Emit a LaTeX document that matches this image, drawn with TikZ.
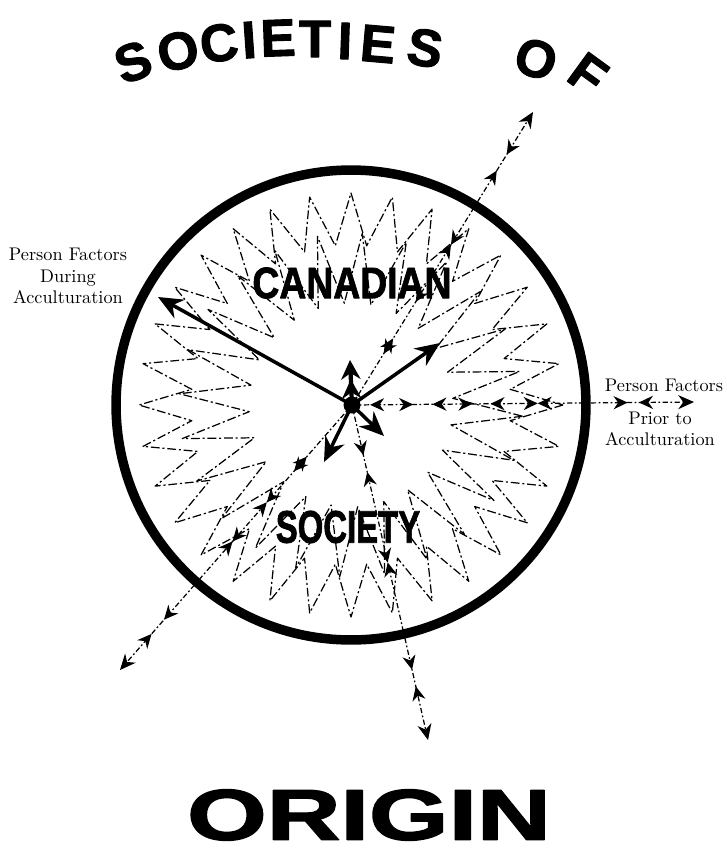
\documentclass[tikz,border=0pt]{standalone}
\usepackage{fontspec}
\newfontfamily\heavyfont{Liberation Sans}[BoldFeatures={FakeBold=1.8}]
\usetikzlibrary{arrows.meta,decorations.markings}
\tikzset{
  every picture/.style={line join=round, >=Stealth},
  ring/.style={line width=5.4pt},
  starline/.style={line width=0.7pt, dash pattern=on 5pt off 1.6pt on 1.2pt off 1.6pt},
  axisline/.style={line width=0.7pt, dash pattern=on 3pt off 1.4pt on 1pt off 1.4pt, -{Stealth[length=9pt,width=8pt]}},
  bigarrow/.style={line width=2pt, -{Stealth[length=14pt,width=12pt]}},
  tip out/.style={postaction={decorate,decoration={markings,mark=at position #1 with {\arrow{Stealth[length=8pt,width=7.5pt]}}}}},
  tip in/.style={postaction={decorate,decoration={markings,mark=at position #1 with {\arrowreversed{Stealth[length=8pt,width=7.5pt]}}}}},
  tip both/.style={tip out=#1, tip in=#1},
  factors/.style={font=\fontsize{10.4}{12.2}\selectfont, align=center, inner sep=0pt},
  title/.style={font=\heavyfont\bfseries\fontsize{30}{30}\selectfont, inner sep=0pt},
  inner title/.style={font=\heavyfont\bfseries\fontsize{25}{25}\selectfont, inner sep=0pt},
}

\begin{document}
\begin{tikzpicture}[x=0.02cm,y=-0.02cm]
\useasboundingbox (0,0) rectangle (727,859);

\coordinate (hub) at (352,405);
\coordinate (a1) at (158,297);
\coordinate (a2) at (440,343);
\coordinate (a3) at (350,360);
\coordinate (a4) at (384,436);
\coordinate (a5) at (324,462);
\coordinate (e1) at (533,112);
\coordinate (e2) at (694,402);
\coordinate (e3) at (120,670);
\coordinate (e4) at (428,740);

\foreach \ch/\px/\py/\rot [count=\i] in {S/133/62/20, O/178/51/13, C/219/43/8, I/249/40/4, E/278/38/2, T/315/39/0, I/345/41/-2, E/378/44/-5, S/425/48/-9, O/536/59/-20, F/588/74/-36}
  \node[title, rotate=\rot] (t\i) at (\px,\py) {\ch};
\node[title, font=\heavyfont\bfseries\fontsize{41}{41}\selectfont] (origin) at (369,815) {\scalebox{1.42}[1]{ORIGIN}};

\draw[ring] (351,405) circle[radius=4.7cm];
\draw[starline, shift={(351,405)}] plot[samples at={0,...,63}, variable=\k] ({\k*5.625}:{ifthenelse(mod(\k,2)==0,212,160)}) -- cycle;
\draw[starline, shift={(351,405)}] plot[samples at={0,...,47}, variable=\k] ({\k*7.5+3.75}:{ifthenelse(mod(\k,2)==0,172,102)}) -- cycle;

\node[inner title] (canadian) at (352,283) {\scalebox{0.85}[1]{CANADIAN}};
\node[inner title, font=\heavyfont\bfseries\fontsize{26}{26}\selectfont] (society) at (348,527) {\scalebox{0.72}[1]{SOCIETY}};

\draw[axisline, tip in=0.175, tip out=0.227, tip in=0.352, tip both=0.547, tip out=0.80, tip in=0.855] (hub) -- (e1);
\draw[axisline, tip in=0.053, tip out=0.179, tip in=0.235, tip out=0.352, tip in=0.405, tip both=0.543, tip out=0.806, tip in=0.839] (hub) -- (e2);
\draw[axisline, tip in=0.195, tip out=0.25, tip both=0.367, tip both=0.515, tip out=0.81, tip in=0.864] (hub) -- (e3);
\draw[axisline, tip out=0.15, tip in=0.20, tip both=0.47, tip out=0.79, tip in=0.84] (hub) -- (e4);

\draw[bigarrow] (hub) -- (a1);
\draw[bigarrow] (hub) -- (a2);
\draw[bigarrow, line width=2.4pt, -{Stealth[length=11pt,width=11pt] Stealth[length=11pt,width=11pt]}] (hub) -- (a3);
\draw[bigarrow] (hub) -- (a4);
\draw[bigarrow] (hub) -- (a5);
\fill (hub) circle[radius=0.17cm];

\node[factors] (during) at (68,276) {Person Factors\\During\\Acculturation};
\node[factors] (prior top) at (664,385) {Person Factors};
\node[factors] (prior) at (660,429) {Prior to\\Acculturation};
\end{tikzpicture}
\end{document}
